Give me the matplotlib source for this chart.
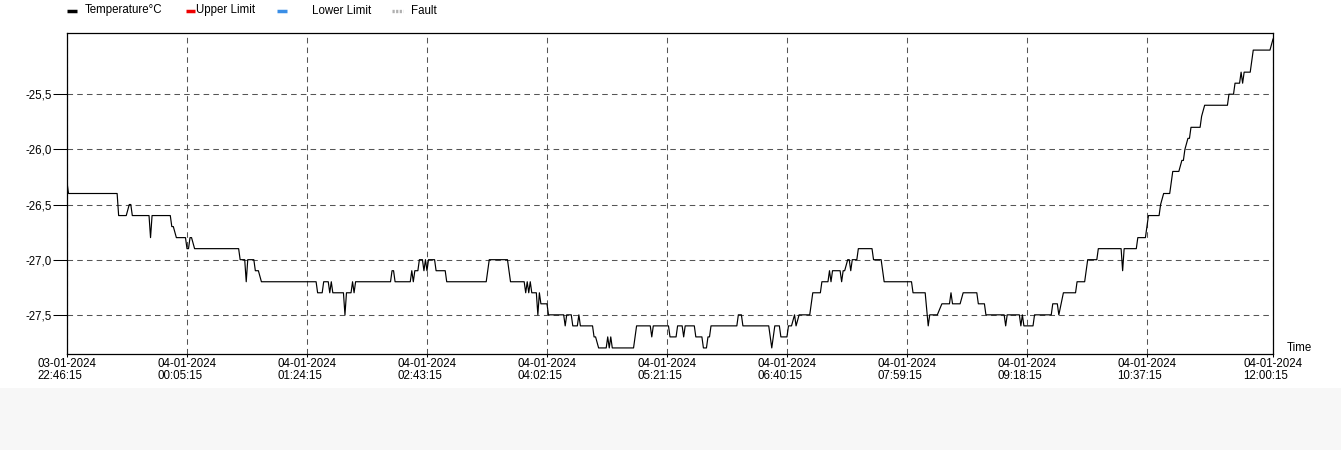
import numpy as np
import pandas as pd
import matplotlib
matplotlib.use('Agg')
import matplotlib.pyplot as plt
import matplotlib.dates as mdates
from matplotlib.lines import Line2D
from matplotlib.patches import Rectangle
from matplotlib.ticker import FuncFormatter

plt.rcParams['font.family'] = ['Liberation Sans', 'DejaVu Sans']
plt.rcParams['lines.scale_dashes'] = False

# minutes after 03-01-2024 22:46:15
start = pd.Timestamp('2024-01-03 22:46:15')
offset_min = [0, 1, 33, 34, 39, 41, 42, 43, 54, 55,
              56, 68, 69, 70, 72, 78, 79, 80, 81, 82,
              84, 113, 114, 117, 118, 119, 123, 124, 126, 128,
              164, 165, 168, 169, 172, 173, 174, 175, 182, 183,
              184, 187, 188, 189, 190, 213, 214, 215, 216, 226,
              227, 228, 229, 231, 232, 234, 235, 236, 237, 238,
              242, 243, 249, 250, 276, 278, 290, 291, 292, 301,
              302, 303, 304, 305, 306, 309, 310, 311, 312, 316,
              317, 327, 328, 329, 332, 333, 336, 337, 338, 346,
              347, 348, 350, 355, 356, 357, 358, 359, 373, 375,
              384, 385, 386, 396, 397, 401, 402, 405, 406, 407,
              413, 414, 418, 419, 421, 422, 423, 424, 441, 442,
              444, 445, 462, 463, 464, 465, 466, 469, 470, 474,
              475, 477, 479, 480, 482, 489, 491, 496, 497, 501,
              502, 503, 504, 509, 510, 511, 512, 514, 515, 516,
              517, 520, 521, 530, 531, 536, 538, 556, 557, 565,
              567, 568, 573, 576, 581, 582, 583, 588, 590, 599,
              600, 604, 605, 617, 618, 619, 627, 628, 629, 630,
              636, 637, 648, 649, 652, 653, 656, 664, 665, 670,
              672, 678, 679, 694, 695, 696, 704, 705, 710, 711,
              712, 719, 720, 722, 726, 727, 728, 732, 734, 735,
              736, 738, 739, 740, 746, 747, 749, 764, 765, 768,
              769, 772, 773, 774, 775, 779, 780, 781, 792, 794]
temp_c = [-26.3, -26.4, -26.4, -26.6, -26.6, -26.5, -26.5, -26.6, -26.6, -26.8,
          -26.6, -26.6, -26.7, -26.7, -26.8, -26.8, -26.9, -26.9, -26.8, -26.8,
          -26.9, -26.9, -27.0, -27.0, -27.2, -27.0, -27.0, -27.1, -27.1, -27.2,
          -27.2, -27.3, -27.3, -27.2, -27.2, -27.3, -27.2, -27.3, -27.3, -27.5,
          -27.3, -27.3, -27.2, -27.3, -27.2, -27.2, -27.1, -27.1, -27.2, -27.2,
          -27.1, -27.2, -27.1, -27.1, -27.0, -27.0, -27.1, -27.0, -27.1, -27.0,
          -27.0, -27.1, -27.1, -27.2, -27.2, -27.0, -27.0, -27.1, -27.2, -27.2,
          -27.3, -27.2, -27.3, -27.2, -27.3, -27.3, -27.5, -27.3, -27.4, -27.4,
          -27.5, -27.5, -27.6, -27.5, -27.5, -27.6, -27.6, -27.5, -27.6, -27.6,
          -27.7, -27.7, -27.8, -27.8, -27.7, -27.8, -27.7, -27.8, -27.8, -27.6,
          -27.6, -27.7, -27.6, -27.6, -27.7, -27.7, -27.6, -27.6, -27.7, -27.6,
          -27.6, -27.7, -27.7, -27.8, -27.8, -27.7, -27.7, -27.6, -27.6, -27.5,
          -27.5, -27.6, -27.6, -27.7, -27.8, -27.7, -27.6, -27.6, -27.7, -27.7,
          -27.6, -27.6, -27.5, -27.6, -27.5, -27.5, -27.3, -27.3, -27.2, -27.2,
          -27.1, -27.2, -27.1, -27.1, -27.2, -27.1, -27.1, -27.0, -27.0, -27.1,
          -27.0, -27.0, -26.9, -26.9, -27.0, -27.0, -27.2, -27.2, -27.3, -27.3,
          -27.6, -27.5, -27.5, -27.4, -27.4, -27.3, -27.4, -27.4, -27.3, -27.3,
          -27.4, -27.4, -27.5, -27.5, -27.6, -27.5, -27.5, -27.6, -27.5, -27.6,
          -27.6, -27.5, -27.5, -27.4, -27.4, -27.5, -27.3, -27.3, -27.2, -27.2,
          -27.0, -27.0, -26.9, -26.9, -27.1, -26.9, -26.9, -26.8, -26.8, -26.7,
          -26.6, -26.6, -26.5, -26.4, -26.4, -26.3, -26.2, -26.2, -26.1, -26.1,
          -26.0, -25.9, -25.9, -25.8, -25.8, -25.7, -25.6, -25.6, -25.5, -25.5,
          -25.4, -25.4, -25.3, -25.4, -25.3, -25.3, -25.2, -25.1, -25.1, -25.0]

y_ticks = [-27.5, -27.0, -26.5, -26.0, -25.5]
tick_step_min = 79
legend_labels = ['Temperature°C', 'Upper Limit', 'Lower Limit', 'Fault']
legend_colors = ['black', '#ee0000', '#3a8ee6', '#b0b0b0']

times = start + pd.to_timedelta(offset_min, unit='min')
end = times[-1]
x_ticks = list(pd.date_range(start, periods=10, freq=f'{tick_step_min}min')) + [end]

W, H = 1341, 450
fig = plt.figure(figsize=(W / 100, H / 100), dpi=100)
fig.patches.append(Rectangle((0, 0), 1, 62 / H, transform=fig.transFigure,
                             facecolor='#f7f7f7', edgecolor='none', zorder=0))

ax = fig.add_axes([67 / W, 1 - 354 / H, (1273 - 67) / W, (354 - 33) / H])
ax.plot(times, temp_c, color='black', lw=0.85, zorder=3)

ax.set_xlim(start, end)
ax.set_ylim(-27.855, -24.945)
ax.set_xticks(x_ticks)
ax.xaxis.set_major_formatter(mdates.DateFormatter('%d-%m-%Y\n%H:%M:%S'))
ax.set_yticks(y_ticks)
ax.yaxis.set_major_formatter(FuncFormatter(lambda v, p: f'{v:.1f}'.replace('.', ',')))

ax.grid(True, color='#555555', lw=0.75, linestyle=(0, (4, 3)))
ax.tick_params(axis='y', length=10, width=0.75, pad=1, labelsize=8.3)
ax.tick_params(axis='x', length=2, width=0.75, pad=1, labelsize=8.3)
for lab in ax.get_xticklabels():
    lab.set_horizontalalignment('center')
    lab.set_multialignment('left')
    lab.set_linespacing(1.0)
for s in ax.spines.values():
    s.set_linewidth(0.9)

fig.text(1287 / W, 1 - 348 / H, 'Time', fontsize=8.3, va='center', ha='left')

# legend strip along the top (handle span, text start in px)
handle_px = [(67, 77), (186, 195), (277, 287), (392, 403)]
text_px = [85, 196, 312, 411]
ly = 1 - 10.5 / H
for (x0, x1), tx, c, lab in zip(handle_px, text_px, legend_colors, legend_labels):
    if lab == 'Fault':
        style = dict(linestyle=(0, (1.6, 1.0)), lw=2.4)
    else:
        style = dict(linestyle='-', lw=2.5)
    fig.add_artist(Line2D([x0 / W, x1 / W], [ly, ly], transform=fig.transFigure,
                          color=c, solid_capstyle='butt', dash_capstyle='butt', **style))
    fig.text(tx / W, ly, lab, fontsize=8.3, va='center', ha='left')

fig.savefig('out.png', dpi=100)
